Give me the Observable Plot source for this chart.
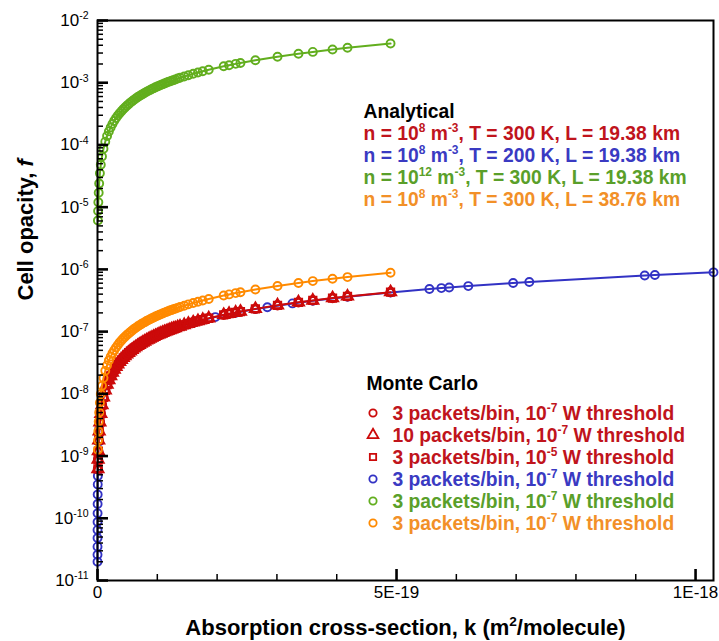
<!DOCTYPE html>
<html>
<head>
<meta charset="utf-8">
<script src="https://cdn.jsdelivr.net/npm/d3@7"></script>
<script src="https://cdn.jsdelivr.net/npm/@observablehq/plot@0.6"></script>
<style>
  body { margin: 0; background: #fff; }
  #chart { width: 719px; height: 641px; }
</style>
</head>
<body>
<div id="chart"></div>
<script>
// Absorption cross-section k, in units of 1e-21 m^2/molecule
const kCommon = [0.7, 1, 1.4, 2, 2.8, 4, 5.5, 7.5,
  10, 13, 16, 19, 22, 25, 28, 31, 34, 37, 40, 43, 46, 49, 52, 55, 58, 61, 64, 67, 70,
  73, 76, 79, 82, 85, 88, 91, 94, 97, 100, 103, 106, 109, 112, 115, 118, 121, 124, 127, 130,
  134, 138, 145, 152, 160, 168, 176, 186, 211, 220, 231, 239, 264, 301, 336, 360, 393, 418, 490];
const kBlue = [0.023, 0.03, 0.04, 0.055, 0.075, 0.1, 0.14, 0.2, 0.28, 0.4, 0.55, 0.7, 1, 1.4, 2, 2.8,
  4, 5.5, 7.5, 10, 13, 16, 20, 24, 28, 33, 38, 43, 48, 54, 60, 66, 72, 79, 86, 93, 100, 108, 116, 124,
  131, 145, 160, 176, 197, 231, 264, 284, 326, 360, 418, 490, 555, 575, 588, 620, 695, 722, 915, 932, 1030];

// Cell opacity f for each case
const fRed = [6.2e-10, 8.8e-10, 1.2e-9, 1.8e-9, 2.5e-9, 3.5e-9, 4.8e-9, 6.6e-9,
  8.8e-9, 1.14e-8, 1.41e-8, 1.67e-8, 1.94e-8, 2.2e-8, 2.46e-8, 2.73e-8, 2.99e-8, 3.26e-8, 3.52e-8,
  3.78e-8, 4.05e-8, 4.31e-8, 4.58e-8, 4.84e-8, 5.1e-8, 5.37e-8, 5.63e-8, 5.9e-8, 6.16e-8,
  6.42e-8, 6.69e-8, 6.95e-8, 7.22e-8, 7.48e-8, 7.74e-8, 8.01e-8, 8.27e-8, 8.54e-8, 8.8e-8,
  9.06e-8, 9.33e-8, 9.59e-8, 9.86e-8, 1.01e-7, 1.04e-7, 1.06e-7, 1.09e-7, 1.12e-7, 1.14e-7,
  1.18e-7, 1.21e-7, 1.28e-7, 1.34e-7, 1.41e-7, 1.48e-7, 1.55e-7, 1.64e-7, 1.86e-7, 1.94e-7,
  2.03e-7, 2.1e-7, 2.32e-7, 2.65e-7, 2.96e-7, 3.17e-7, 3.46e-7, 3.68e-7, 4.31e-7];
const fOrange = [1.26e-9, 1.8e-9, 2.5e-9, 3.6e-9, 5.0e-9, 7.2e-9, 9.9e-9, 1.35e-8,
  1.8e-8, 2.34e-8, 2.88e-8, 3.42e-8, 3.96e-8, 4.5e-8, 5.04e-8, 5.58e-8, 6.12e-8, 6.66e-8, 7.2e-8,
  7.74e-8, 8.28e-8, 8.82e-8, 9.36e-8, 9.9e-8, 1.04e-7, 1.1e-7, 1.15e-7, 1.21e-7, 1.26e-7,
  1.31e-7, 1.37e-7, 1.42e-7, 1.48e-7, 1.53e-7, 1.58e-7, 1.64e-7, 1.69e-7, 1.75e-7, 1.8e-7,
  1.85e-7, 1.91e-7, 1.96e-7, 2.02e-7, 2.07e-7, 2.12e-7, 2.18e-7, 2.23e-7, 2.29e-7, 2.34e-7,
  2.41e-7, 2.48e-7, 2.61e-7, 2.74e-7, 2.88e-7, 3.02e-7, 3.17e-7, 3.35e-7, 3.8e-7, 3.96e-7,
  4.16e-7, 4.3e-7, 4.75e-7, 5.42e-7, 6.05e-7, 6.48e-7, 7.07e-7, 7.52e-7, 8.82e-7];
const fGreen = [6.1e-6, 8.7e-6, 1.2e-5, 1.7e-5, 2.4e-5, 3.5e-5, 4.8e-5, 6.5e-5,
  8.7e-5, 1.13e-4, 1.39e-4, 1.65e-4, 1.91e-4, 2.18e-4, 2.44e-4, 2.7e-4, 2.96e-4, 3.22e-4, 3.48e-4,
  3.74e-4, 4.0e-4, 4.26e-4, 4.52e-4, 4.79e-4, 5.05e-4, 5.31e-4, 5.57e-4, 5.83e-4, 6.09e-4,
  6.35e-4, 6.61e-4, 6.87e-4, 7.13e-4, 7.4e-4, 7.66e-4, 7.92e-4, 8.18e-4, 8.44e-4, 8.7e-4,
  8.96e-4, 9.22e-4, 9.48e-4, 9.74e-4, 1.0e-3, 1.03e-3, 1.05e-3, 1.08e-3, 1.1e-3, 1.13e-3,
  1.17e-3, 1.2e-3, 1.26e-3, 1.32e-3, 1.39e-3, 1.46e-3, 1.53e-3, 1.62e-3, 1.84e-3, 1.91e-3,
  2.01e-3, 2.08e-3, 2.3e-3, 2.62e-3, 2.92e-3, 3.13e-3, 3.42e-3, 3.64e-3, 4.26e-3];
const fBlue = [2.0e-11, 2.6e-11, 3.5e-11, 4.8e-11, 6.5e-11, 8.7e-11, 1.2e-10, 1.7e-10, 2.4e-10, 3.5e-10,
  4.8e-10, 6.1e-10, 8.7e-10, 1.2e-9, 1.7e-9, 2.4e-9, 3.5e-9, 4.8e-9, 6.5e-9, 8.7e-9,
  1.13e-8, 1.39e-8, 1.74e-8, 2.09e-8, 2.44e-8, 2.87e-8, 3.31e-8, 3.74e-8, 4.18e-8, 4.7e-8,
  5.22e-8, 5.74e-8, 6.26e-8, 6.87e-8, 7.48e-8, 8.09e-8, 8.7e-8, 9.4e-8, 1.01e-7, 1.08e-7,
  1.14e-7, 1.26e-7, 1.39e-7, 1.53e-7, 1.71e-7, 2.01e-7, 2.3e-7, 2.47e-7, 2.84e-7, 3.13e-7,
  3.64e-7, 4.26e-7, 4.83e-7, 5.0e-7, 5.12e-7, 5.39e-7, 6.05e-7, 6.28e-7, 7.96e-7, 8.11e-7, 8.96e-7];

// Axis ticks and labels
const xTickValues = [0, 5e-19, 1e-18];
const xTickLabels = ["0", "5E-19", "1E-18"];
const xMinorTicks = [1e-19, 2e-19, 3e-19, 4e-19, 6e-19, 7e-19, 8e-19, 9e-19];
const yExponents = [-11, -10, -9, -8, -7, -6, -5, -4, -3, -2];
const yMinorMantissas = [2, 3, 4, 5, 6, 7, 8, 9];

// Legend text ( ^{..} = superscript, *{..} = italic )
const analyticalLabels = [
  "n = 10^{8} m^{-3}, T = 300 K, L = 19.38 km",
  "n = 10^{8} m^{-3}, T = 200 K, L = 19.38 km",
  "n = 10^{12} m^{-3}, T = 300 K, L = 19.38 km",
  "n = 10^{8} m^{-3}, T = 300 K, L = 38.76 km"
];
const monteCarloLabels = [
  "3 packets/bin, 10^{-7} W threshold",
  "10 packets/bin, 10^{-7} W threshold",
  "3 packets/bin, 10^{-5} W threshold",
  "3 packets/bin, 10^{-7} W threshold",
  "3 packets/bin, 10^{-7} W threshold",
  "3 packets/bin, 10^{-7} W threshold"
];

const C = {red: "#cc0a0a", blue: "#3232c4", green: "#62ae1e", orange: "#ff8a00"};
const T = {red: "#c0141c", blue: "#3a3ac2", green: "#5a9f2a", orange: "#f29028"};
const mcColors = [T.red, T.red, T.red, T.blue, T.green, T.orange];
const mcMarkColors = [C.red, C.red, C.red, C.blue, C.green, C.orange];
const mcSymbols = [d3.symbolCircle, d3.symbolTriangle, d3.symbolSquare, d3.symbolCircle, d3.symbolCircle, d3.symbolCircle];
const analyticalColors = [T.red, T.blue, T.green, T.orange];

const rows = (k, f) => k.map((v, i) => ({k: v * 1e-21, f: f[i]}));
const red = rows(kCommon, fRed);
const orange = rows(kCommon, fOrange);
const green = rows(kCommon, fGreen);
const blue = rows(kBlue, fBlue);

const yMajor = yExponents.map(e => 10 ** e);
const yMinor = yExponents.slice(0, -1).flatMap(e => yMinorMantissas.map(m => m * 10 ** e));

const series = (data, color, symbols, sw = 1.9) => [
  Plot.line(data, {x: "k", y: "f", stroke: color, strokeWidth: 2}),
  ...symbols.map(s => Plot.dot(data, {x: "k", y: "f", symbol: s, r: 4, stroke: color, strokeWidth: sw, fill: "none"}))
];

// Frame geometry, used to shorten full-width rules into inward tick marks
const W = 719, H = 641, ML = 97, MR = 6, MT = 20, MB = 61;
const frameW = W - ML - MR, frameH = H - MT - MB;
const yTicks = (values, len, sw) => Plot.ruleY(values, {insetRight: frameW - len, stroke: "#000", strokeWidth: sw});
const xTicks = (values, len, sw) => Plot.ruleX(values, {insetTop: frameH - len, stroke: "#000", strokeWidth: sw});

const font = "'Liberation Sans', Arial, Helvetica, sans-serif";
const legendText = (label, color, dx, dy) =>
  Plot.text([label], {frameAnchor: "top-left", lineAnchor: "middle", dx, dy, textAnchor: "start", fill: color,
    fontSize: 19.3, fontWeight: "bold"});

const chart = Plot.plot({
  width: W,
  height: H,
  marginLeft: ML,
  marginRight: MR,
  marginTop: MT,
  marginBottom: MB,
  style: {fontFamily: font, fontSize: "17px", background: "#fff", color: "#000"},
  x: {domain: [0, 1.03e-18]},
  y: {type: "log", domain: [1e-11, 1e-2]},
  marks: [
    ...series(blue, C.blue, ["circle"]),
    ...series(red, C.red, ["square", "triangle", "circle"], 2.2),
    ...series(orange, C.orange, ["circle"]),
    ...series(green, C.green, ["circle"]),

    yTicks(yMinor, 6, 1.5),
    yTicks(yMajor, 11, 2.6),
    xTicks(xMinorTicks, 6, 1.5),
    xTicks(xTickValues, 11, 2.6),
    Plot.axisY({ticks: yMajor, tickSize: 0, tickPadding: 9, label: null, fontSize: 17,
      tickFormat: d => `10^{${Math.round(Math.log10(d))}}`}),
    Plot.axisX({ticks: xTickValues, tickSize: 0, tickPadding: 5, label: null, fontSize: 17,
      tickFormat: d => xTickLabels[xTickValues.indexOf(d)]}),
    Plot.frame({stroke: "#000", strokeWidth: 2}),

    Plot.text(["Cell opacity, *{f}"], {frameAnchor: "left", lineAnchor: "middle", dx: -72, rotate: -90,
      fontSize: 22, fontWeight: "bold", fill: "#000"}),
    Plot.text(["Absorption cross-section, k (m^{2}/molecule)"], {frameAnchor: "bottom", lineAnchor: "middle", dy: 47,
      fontSize: 22, fontWeight: "bold", fill: "#000"}),

    legendText("Analytical", "#000", 266, 91),
    ...analyticalLabels.map((s, i) => legendText(s, analyticalColors[i], 266, 113 + 22 * i)),
    legendText("Monte Carlo", "#000", 269, 363),
    ...monteCarloLabels.map((s, i) => legendText(s, mcColors[i], 295, 393 + 22 * i))
  ]
});

// Superscript / italic markup inside text elements
const NS = "http://www.w3.org/2000/svg";
function richText(root) {
  root.querySelectorAll("text").forEach(node => {
    const targets = node.querySelectorAll("tspan").length ? node.querySelectorAll("tspan") : [node];
    targets.forEach(t => {
      const s = t.textContent;
      if (!/[\^*]\{/.test(s)) return;
      t.textContent = "";
      const re = /([\^*])\{([^}]*)\}/g;
      let last = 0, m, shifted = false;
      const add = (str, kind) => {
        const ts = document.createElementNS(NS, "tspan");
        ts.textContent = str;
        if (kind === "^") {
          ts.setAttribute("font-size", "0.62em");
          ts.setAttribute("dy", "-0.62em");
          shifted = true;
        } else {
          if (kind === "*") ts.setAttribute("font-style", "italic");
          if (shifted) { ts.setAttribute("dy", "0.385em"); shifted = false; }
        }
        t.appendChild(ts);
      };
      while ((m = re.exec(s))) {
        if (m.index > last) add(s.slice(last, m.index), "");
        add(m[2], m[1]);
        last = re.lastIndex;
      }
      if (last < s.length) add(s.slice(last), "");
    });
  });
}
richText(chart);

// Symbol keys for the Monte Carlo legend
const svg = d3.select(chart);
const keys = svg.append("g").attr("fill", "none").attr("stroke-width", 1.8);
mcSymbols.forEach((sym, i) => {
  keys.append("path")
    .attr("transform", `translate(373,${413 + 22 * i})`)
    .attr("d", d3.symbol(sym, sym === d3.symbolTriangle ? 50 : sym === d3.symbolSquare ? 40 : 42)())
    .attr("stroke", mcMarkColors[i]);
});

document.getElementById("chart").appendChild(chart);
</script>
</body>
</html>
